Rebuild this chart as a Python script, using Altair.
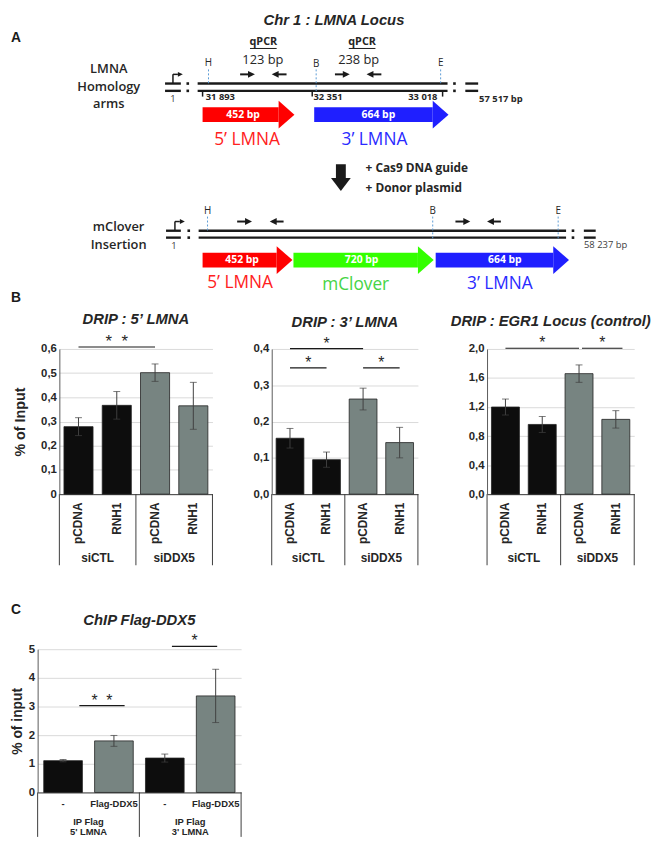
import altair as alt
import pandas as pd

FA = "Open Sans"
FB = "Liberation Sans"
INK = "#1a1a1a"
TXT = "#262626"

# ================= DATA : bar panels =================
drip_bars = ["pCDNA", "RNH1", "pCDNA", "RNH1"]
drip_groups = ["siCTL", "siCTL", "siDDX5", "siDDX5"]

drip5_mean = [0.279, 0.367, 0.502, 0.365]
drip5_err = [0.037, 0.057, 0.036, 0.097]
drip3_mean = [0.154, 0.095, 0.262, 0.142]
drip3_err = [0.027, 0.021, 0.030, 0.042]
egr1_mean = [1.20, 0.96, 1.66, 1.03]
egr1_err = [0.11, 0.11, 0.12, 0.12]

chip_bars = ["-", "Flag-DDX5", "-", "Flag-DDX5"]
chip_groups = ["5' LMNA", "5' LMNA", "3' LMNA", "3' LMNA"]
chip_ip = ["IP Flag", "IP Flag"]
chip_mean = [1.11, 1.80, 1.20, 3.37]
chip_err = [0.04, 0.19, 0.14, 0.93]

# significance brackets: start / end (in bar slots), height, stars
STAR2 = "*\u00a0\u00a0*"
drip5_sig = {"x1": [0.5], "x2": [2.5], "y": [0.608], "stars": [STAR2]}
drip3_sig = {"x1": [0.5, 0.5, 2.5], "x2": [2.5, 1.5, 3.5], "y": [0.401, 0.348, 0.348], "stars": ["*", "*", "*"]}
egr1_sig = {"x1": [0.5, 2.58], "x2": [2.5, 3.68], "y": [2.01, 2.01], "stars": ["*", "*"]}
chip_sig = {"x1": [0.82, 2.64], "x2": [1.71, 3.53], "y": [3.03, 5.1], "stars": [STAR2, "*"]}

# ================= DATA : schematic (panel A, diagram units) =================
REGIONS = ["5’ LMNA", "mClover", "3’ LMNA"]
strand_x1 = [197, 197, 164, 164, 468, 468, 198, 198, 165, 165, 588, 588]
strand_x2 = [450, 450, 180, 180, 481, 481, 570, 570, 180, 180, 600, 600]
strand_y = [79.3, 86.7] * 3 + [228.3, 235.3] * 3
colon_x = [187, 187, 457, 457, 188, 188, 577, 577]
colon_y = [79.3, 86.7, 79.3, 86.7, 228.3, 235.3, 228.3, 235.3]
coord_tick_x = [202, 313, 445]
promoter_x1 = [172, 172, 174, 174]
promoter_y1 = [79.3, 70, 228.3, 219]
promoter_x2 = [172, 177, 174, 179]
promoter_y2 = [70, 70, 219, 219]
promoter_head_x = [179.5, 181.5]
promoter_head_y = [70, 219]
site_x = [208, 317, 443, 207, 435, 562]
site_y1 = [65, 65, 65, 214, 214, 214]
site_y2 = [80, 87, 80, 228, 236, 236]
site_label = ["H", "B", "E", "H", "B", "E"]
site_label_y = [59, 60, 59, 208, 208, 208]
primer_from = [240, 287, 336, 383, 237, 284, 458, 504]
primer_to = [255, 272, 351, 368, 252, 270, 473, 490]
primer_y = [70, 70, 70, 70, 219, 219, 219, 219]
block_start = [202, 315, 202, 294, 438]
block_tip = [295, 451, 293, 436, 573]
block_y = [110.8, 110.8, 258, 258, 258]
block_region = ["5’ LMNA", "3’ LMNA", "5’ LMNA", "mClover", "3’ LMNA"]
block_label = ["452 bp", "664 bp", "452 bp", "720 bp", "664 bp"]
block_label_x = [243, 380, 242, 363, 508]
region_label_x = [247, 376, 240, 357, 503]
region_label_y = [137, 137, 281, 283, 282]
region_label = ["5’ LMNA", "3’ LMNA", "5’ LMNA", "mClover", "3’ LMNA"]

XS = alt.Scale(domain=[8, 652], nice=False, zero=False)
YS = alt.Scale(domain=[8, 348], nice=False, zero=False, reverse=True)


def AX(f):
    return alt.X(f"{f}:Q", scale=XS, axis=None)


def AY(f):
    return alt.Y(f"{f}:Q", scale=YS, axis=None)


def texts(xs, ys, ts, **mk):
    df = pd.DataFrame({"x": xs, "y": ys, "t": ts})
    mk.setdefault("baseline", "middle")
    mk.setdefault("color", INK)
    return alt.Chart(df).mark_text(**mk).encode(x=AX("x"), y=AY("y"), text="t:N")


A = []
A.append(alt.Chart(pd.DataFrame({"x1": strand_x1, "x2": strand_x2, "y": strand_y}))
         .mark_rule(color=INK, strokeWidth=2.4).encode(x=AX("x1"), x2="x2:Q", y=AY("y")))
A.append(alt.Chart(pd.DataFrame({"x": colon_x, "y": colon_y}))
         .mark_square(color=INK, size=7, opacity=1).encode(x=AX("x"), y=AY("y")))
A.append(alt.Chart(pd.DataFrame({"x": coord_tick_x}))
         .transform_calculate(y1="86.7", y2="92.5")
         .mark_rule(color=INK, strokeWidth=1.5).encode(x=AX("x"), y=AY("y1"), y2="y2:Q"))
A.append(alt.Chart(pd.DataFrame({"x1": promoter_x1, "y1": promoter_y1, "x2": promoter_x2, "y2": promoter_y2}))
         .mark_rule(color=INK, strokeWidth=1.5).encode(x=AX("x1"), x2="x2:Q", y=AY("y1"), y2="y2:Q"))
A.append(alt.Chart(pd.DataFrame({"x": promoter_head_x, "y": promoter_head_y}))
         .mark_point(shape="M-1,-1L1,0L-1,1Z", size=25, filled=True, opacity=1, color=INK, strokeWidth=0)
         .encode(x=AX("x"), y=AY("y")))
A.append(alt.Chart(pd.DataFrame({"x": site_x, "y1": site_y1, "y2": site_y2}))
         .mark_rule(color="#5b9bd5", strokeWidth=1, strokeDash=[2, 2]).encode(x=AX("x"), y=AY("y1"), y2="y2:Q"))
# primer arrows
pdf = pd.DataFrame({"a": primer_from, "b": primer_to, "y": primer_y})
pdf["dir"] = ["R" if b > a else "L" for a, b in zip(primer_from, primer_to)]
A.append(alt.Chart(pdf).transform_calculate(e="datum.b > datum.a ? datum.b - 3 : datum.b + 3")
         .mark_rule(color=INK, strokeWidth=2).encode(x=AX("a"), x2="e:Q", y=AY("y")))
A.append(alt.Chart(pdf).transform_calculate(h="datum.b > datum.a ? datum.b - 3.5 : datum.b + 3.5")
         .mark_point(size=49, filled=True, opacity=1, color=INK, strokeWidth=0)
         .encode(x=AX("h"), y=AY("y"),
                 shape=alt.Shape("dir:N", scale=alt.Scale(domain=["R", "L"], range=["M-1,-1L1,0L-1,1Z", "M1,-1L-1,0L1,1Z"]), legend=None)))
# qPCR underlines
A.append(alt.Chart(pd.DataFrame({"x1": [250, 350], "x2": [277, 377], "y": [43.8, 43.8]}))
         .mark_rule(color=INK, strokeWidth=1).encode(x=AX("x1"), x2="x2:Q", y=AY("y")))
# block arrows
bdf = pd.DataFrame({"s": block_start, "tip": block_tip, "y": block_y, "region": block_region})
reg_block = alt.Color("region:N", scale=alt.Scale(domain=REGIONS, range=["#ff0000", "#33ff00", "#1f1fff"]), legend=None)
A.append(alt.Chart(bdf).transform_calculate(e="datum.tip - 16", y1="datum.y - 7.5", y2="datum.y + 7.5")
         .mark_rect().encode(x=AX("s"), x2="e:Q", y=AY("y1"), y2="y2:Q", color=reg_block))
A.append(alt.Chart(bdf).transform_calculate(h="datum.tip - 8")
         .mark_point(shape="M-0.5714,-1L0.5714,0L-0.5714,1Z", size=784, filled=True, opacity=1, strokeWidth=0)
         .encode(x=AX("h"), y=AY("y"), color=reg_block))
# big down arrow
A.append(alt.Chart(pd.DataFrame({"x1": [337], "x2": [347], "y1": [161], "y2": [175.5]}))
         .mark_rect(color=INK).encode(x=AX("x1"), x2="x2:Q", y=AY("y1"), y2="y2:Q"))
A.append(alt.Chart(pd.DataFrame({"x": [342], "y": [181.5]}))
         .mark_point(shape="M-1,-0.65L1,-0.65L0,0.65Z", size=400, filled=True, opacity=1, color=INK, strokeWidth=0)
         .encode(x=AX("x"), y=AY("y")))
# texts
A.append(texts([335], [15.5], ["Chr 1 : LMNA Locus"], font=FB, fontSize=15, fontWeight="bold", fontStyle="italic", color=TXT))
A.append(texts([13, 13, 13], [33, 296, 612], ["A", "B", "C"], font=FB, fontSize=14, fontWeight="bold"))
A.append(texts([107, 107, 107, 117, 117], [65, 83, 100, 225, 243],
               ["LMNA", "Homology", "arms", "mClover", "Insertion"], font=FA, fontSize=13, fontWeight=600, color=TXT))
A.append(texts([263.5, 363.5], [37.5, 37.5], ["qPCR", "qPCR"], font=FA, fontSize=11, fontWeight="bold", color=TXT))
A.append(texts([263, 360], [56, 56], ["123 bp", "238 bp"], font=FA, fontSize=13, color=TXT))
A.append(texts(site_x, site_label_y, site_label, font=FA, fontSize=10, color=TXT))
A.append(texts([220, 329, 425, 504], [93, 93, 93, 95], ["31 893", "32 351", "33 018", "57 517 bp"],
               font=FA, fontSize=9.5, fontWeight="bold", color=TXT))
A.append(texts([172, 173, 610], [95, 244, 243], ["1", "1", "58 237 bp"], font=FA, fontSize=9.5, color="#404040"))
A.append(texts(block_label_x, block_y, block_label, font=FA, fontSize=10.5, fontWeight="bold", color="white"))
A.append(texts([367, 367], [165, 185], ["+ Cas9 DNA guide", "+ Donor plasmid"], font=FA, fontSize=12,
               fontWeight="bold", align="left", color=TXT))
rl = pd.DataFrame({"x": region_label_x, "y": region_label_y, "t": region_label})
A.append(alt.Chart(rl).mark_text(font=FA, fontSize=17.5, baseline="middle")
         .encode(x=AX("x"), y=AY("y"), text="t:N",
                 color=alt.Color("t:N", scale=alt.Scale(domain=REGIONS, range=["#ff2020", "#45d445", "#2a2aff"]), legend=None)))

panelA = alt.layer(*A).resolve_scale(color="independent").properties(width=644, height=340)


# ================= bar panels =================
def bar_panel(bars, groups, colour_by, colour_domain, mean, err, sig, ydom, yticks, ylabel_expr,
              title, ytitle, w, h, label_angle, label_size, label_pad, group_rows, div_len,
              title_dx=0, ytitle_x=-40, ytitle_size=14.5, tick_size=11.5, star_size=16):
    n = len(bars)
    df = pd.DataFrame({
        "key": [f"{b}|{i}" for i, b in enumerate(bars)],
        "shade": colour_by,
        "mean": mean,
        "lo": [m - e for m, e in zip(mean, err)],
        "hi": [m + e for m, e in zip(mean, err)],
    })
    band = alt.Scale(paddingInner=0, paddingOuter=0)
    xaxis = alt.Axis(title=None, labelExpr="split(datum.label, '|')[0]", labelAngle=label_angle,
                     labelFont=FB, labelFontSize=label_size, labelFontWeight="bold", labelColor=TXT,
                     labelPadding=label_pad, ticks=False, domainColor="#3c3c3c", domainWidth=1, grid=False)
    XB = alt.X("key:N", sort=None, scale=band, axis=xaxis)
    XB0 = alt.X("key:N", sort=None, scale=band, axis=None)
    qs = alt.Scale(domain=[0, n], nice=False, zero=False)

    def XQ(f):
        return alt.X(f"{f}:Q", scale=qs, axis=None)

    ys = alt.Scale(domain=ydom, nice=False, zero=True)
    yaxis = alt.Axis(values=yticks, labelExpr=ylabel_expr, labelFont=FB, labelFontSize=tick_size,
                     labelFontWeight="bold", labelColor=TXT, labelPadding=3, ticks=False,
                     domainColor="#595959", gridColor="#d9d9d9", title=ytitle, titleFont=FB,
                     titleFontSize=ytitle_size, titleFontWeight="bold", titleColor=TXT,
                     titleX=ytitle_x, titleY=h / 2, titleAngle=270, titleAlign="center", titleBaseline="middle")

    def Y(f):
        return alt.Y(f"{f}:Q", scale=ys, axis=yaxis)

    colour = alt.Color("shade:N", scale=alt.Scale(domain=colour_domain, range=["#0d0d0d", "#778481"]), legend=None)
    bars_l = alt.Chart(df).mark_bar(width={"band": 0.76}, stroke="#222222", strokeWidth=0.8).encode(
        x=XB, y=Y("mean"), color=colour)
    err_l = alt.Chart(df).mark_rule(color="#404040", strokeWidth=1).encode(x=XB0, y=Y("lo"), y2="hi:Q")
    caps_l = alt.Chart(df).transform_fold(["lo", "hi"], as_=["end", "v"]).mark_tick(
        color="#404040", thickness=1, size=7).encode(x=XB0, y=Y("v"))
    sdf = pd.DataFrame(sig)
    sig_l = alt.Chart(sdf).mark_rule(color=INK, strokeWidth=1.2).encode(x=XQ("x1"), x2="x2:Q", y=Y("y"))
    star_l = alt.Chart(sdf).transform_calculate(xm="(datum.x1 + datum.x2) / 2").mark_text(
        font=FB, fontSize=star_size, color=TXT, baseline="alphabetic").encode(x=XQ("xm"), y=Y("y"), text="stars:N")
    bounds = [0] + [i for i in range(1, n) if groups[i] != groups[i - 1]] + [n]
    centres = [(a + b) / 2 for a, b in zip(bounds[:-1], bounds[1:])]
    div_l = alt.Chart(pd.DataFrame({"p": bounds})).mark_rule(color="#3c3c3c", strokeWidth=1).encode(
        x=XQ("p"), y=alt.value(h), y2=alt.value(h + div_len))
    layers = [bars_l, err_l, caps_l, sig_l, star_l, div_l]
    for labels, off, size in group_rows:
        gdf = pd.DataFrame({"p": centres, "t": labels})
        layers.append(alt.Chart(gdf).mark_text(font=FB, fontWeight="bold", fontSize=size, color=TXT,
                                               baseline="middle").encode(x=XQ("p"), y=alt.value(h + off), text="t:N"))
    ttl = alt.TitleParams(title, font=FB, fontSize=15, fontWeight="bold", fontStyle="italic", color=TXT,
                          anchor="middle", offset=6, dx=title_dx)
    return alt.layer(*layers).resolve_scale(x="independent").properties(width=w, height=h, title=ttl)


grp_names = ["siCTL", "siDDX5"]
dec = "replace(format(datum.value, '.1f'), '.', ',')"
b1 = bar_panel(drip_bars, drip_groups, drip_groups, grp_names, drip5_mean, drip5_err, drip5_sig,
               [0, 0.6], [0, 0.1, 0.2, 0.3, 0.4, 0.5, 0.6], "datum.value == 0 ? '0' : " + dec,
               "DRIP : 5’ LMNA", "% of Input", 155, 147, 270, 12, 8, [(grp_names, 65, 12)], 72,
               ytitle_x=-39.5, star_size=17)
b2 = bar_panel(drip_bars, drip_groups, drip_groups, grp_names, drip3_mean, drip3_err, drip3_sig,
               [0, 0.4], [0, 0.1, 0.2, 0.3, 0.4], dec,
               "DRIP : 3’  LMNA", None, 148, 147, 270, 12, 8, [(grp_names, 65, 12)], 72)
b3 = bar_panel(drip_bars, drip_groups, drip_groups, grp_names, egr1_mean, egr1_err, egr1_sig,
               [0, 2.0], [0, 0.4, 0.8, 1.2, 1.6, 2.0], dec,
               "DRIP : EGR1 Locus (control)", None, 149, 147, 270, 12, 8, [(grp_names, 65, 12)], 72,
               title_dx=-10)
c1 = bar_panel(chip_bars, chip_groups, chip_bars, ["-", "Flag-DDX5"], chip_mean, chip_err, chip_sig,
               [0, 5], [0, 1, 2, 3, 4, 5], "format(datum.value, 'd')",
               "ChIP Flag-DDX5", "% of input", 206, 145, 0, 9.5, 6,
               [(chip_ip, 30, 9.5), (["5' LMNA", "3' LMNA"], 40, 9.5)], 45,
               ytitle_x=-20, ytitle_size=14, star_size=16)


def spacer(w, h=1):
    return alt.Chart(pd.DataFrame({"s": [0]})).mark_point(opacity=0).encode(
        x=alt.value(0), y=alt.value(0)).properties(width=w, height=h)


brow = alt.hconcat(spacer(49), b1, spacer(60), b2, spacer(70), b3, spacing=0, bounds="flush")
crow = alt.hconcat(spacer(27), c1, spacing=0, bounds="flush")
# the nested row counts as zero height in the flush layout, so the spacer carries row height + gap
chart = alt.vconcat(panelA, brow, spacer(10, 304), crow, spacing=0, bounds="flush").properties(
    padding=0, background="white").configure_view(stroke=None)

chart.save("out.html", embed_options={"renderer": "svg", "actions": False})
